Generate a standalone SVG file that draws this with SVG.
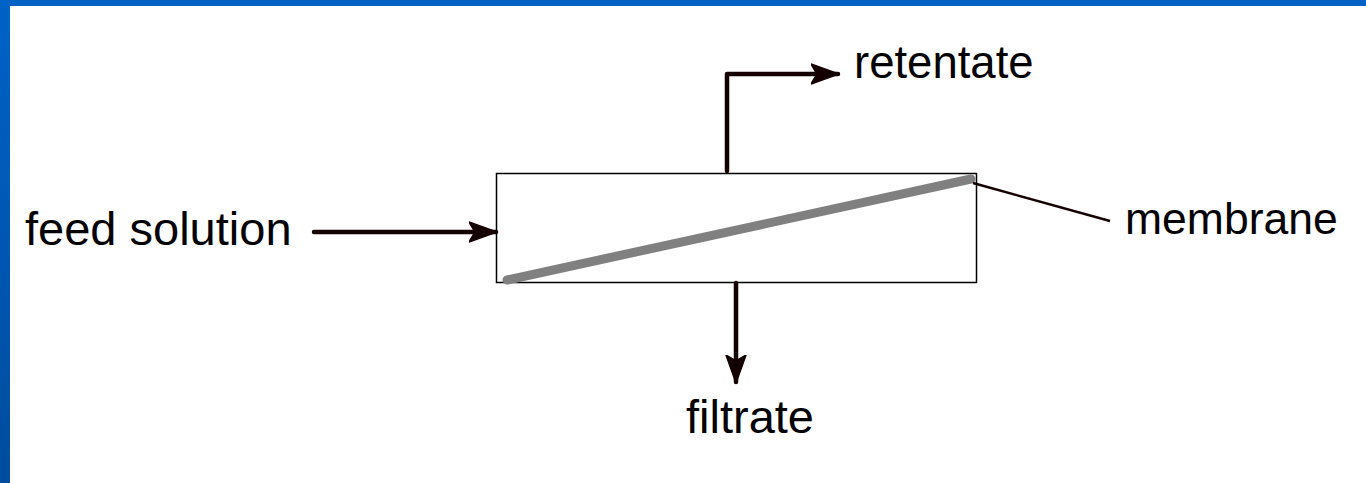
<svg xmlns="http://www.w3.org/2000/svg" width="1366" height="483" viewBox="0 0 1366 483">
  <style>
    .lbl { font-family: "Liberation Sans", Arial, sans-serif; font-size: 47px; fill: #000; }
    .flow { stroke: #140000; stroke-width: 4.5; fill: none; stroke-linecap: round; stroke-linejoin: round; }
    .thin { stroke: #140000; stroke-width: 2.5; fill: none; }
  </style>
  <defs>
    <linearGradient id="sideBand" x1="0" y1="0" x2="0" y2="1">
      <stop offset="0" stop-color="#0062c6"/>
      <stop offset="1" stop-color="#004c9e"/>
    </linearGradient>
    <marker id="arrow" viewBox="0 0 28 22" refX="27" refY="11" markerWidth="28" markerHeight="22" markerUnits="userSpaceOnUse" orient="auto">
      <path d="M0,1 L28,11 L0,21 L6,11 Z" fill="#140000" stroke="#140000" stroke-width="1.5" stroke-linejoin="round"/>
    </marker>
  </defs>

  <!-- slide frame -->
  <rect x="0" y="0" width="1366" height="483" fill="#ffffff"/>
  <rect x="0" y="0" width="10" height="483" fill="url(#sideBand)"/>
  <rect x="0" y="0" width="1366" height="6" fill="#0062c6"/>

  <!-- filter module -->
  <g id="module">
    <rect x="496.5" y="173.5" width="480" height="109" fill="#ffffff" stroke="#000" stroke-width="1.5"/>
  </g>
  <g id="membrane-sheet">
    <line x1="507" y1="280" x2="971" y2="179" stroke="#808080" stroke-width="9" stroke-linecap="round"/>
  </g>

  <!-- connectors -->
  <g id="connectors">
    <line class="flow" x1="314" y1="232" x2="496" y2="232" marker-end="url(#arrow)"/>
    <polyline class="flow" points="727,171 727,74 838,74" marker-end="url(#arrow)"/>
    <line class="flow" x1="736" y1="283" x2="736" y2="382" marker-end="url(#arrow)"/>
    <line class="thin" x1="973" y1="183" x2="1110" y2="221"/>
  </g>

  <!-- labels -->
  <g id="feed"><text class="lbl" x="25" y="245">feed solution</text></g>
  <g id="retentate"><text class="lbl" x="854" y="78" style="font-size:45.5px">retentate</text></g>
  <g id="membrane"><text class="lbl" x="1125" y="234" style="font-size:44.5px">membrane</text></g>
  <g id="filtrate"><text class="lbl" x="686" y="433">filtrate</text></g>
</svg>
